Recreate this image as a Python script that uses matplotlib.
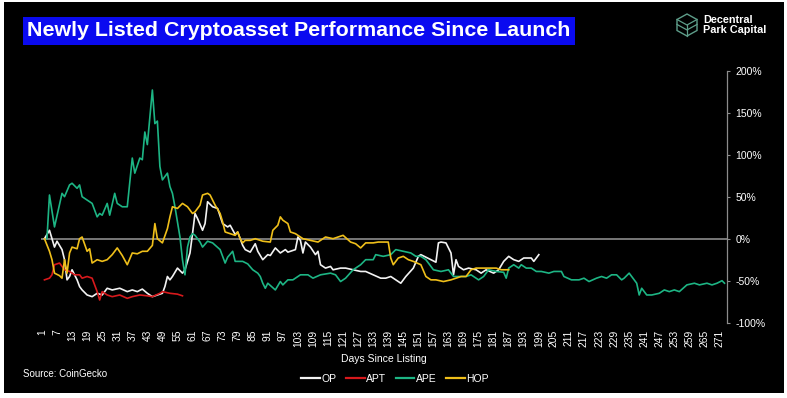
import matplotlib
matplotlib.use("Agg")
import matplotlib.pyplot as plt
import numpy as np
from matplotlib.patches import Rectangle, Polygon
from matplotlib.lines import Line2D

plt.rcParams['font.family'] = ['Liberation Sans', 'DejaVu Sans']

# ---- data (days since listing, % change) ----
op_days = [2, 4, 6, 7, 9, 10, 11, 12, 13, 15, 16, 17, 19, 21, 23, 25, 27, 29, 32, 35,
           37, 39, 41, 43, 45, 47, 49, 50, 51, 52, 53, 55, 57, 58, 60, 61, 62, 63, 65, 66,
           67, 69, 71, 73, 75, 76, 78, 79, 81, 82, 84, 86, 87, 89, 91, 92, 94, 96, 98, 99,
           102, 103, 104, 105, 106, 108, 110, 111, 112, 114, 116, 117, 120, 122, 125, 128, 130, 133, 136, 138,
           140, 142, 144, 146, 149, 151, 152, 154, 156, 158, 159, 160, 162, 164, 165, 166, 167, 169, 171, 174,
           176, 178, 181, 183, 185, 187, 189, 191, 193, 196, 197, 199]
op_vals = [0, 10, -10, -3, -13, -25, -49, -45, -37, -49, -57, -61, -67, -69, -65, -67, -59, -61, -59, -63,
           -61, -63, -60, -65, -69, -67, -65, -57, -45, -49, -45, -35, -41, -37, -17, 6, 30, 24, 10, 18,
           44, 38, 36, 18, 14, 16, 5, 8, -8, -13, -16, -6, -15, -25, -19, -20, -11, -17, -13, -16,
           -13, 2, -2, -17, -4, -10, -19, -15, -31, -35, -33, -37, -35, -35, -37, -39, -39, -43, -47, -47,
           -45, -49, -53, -45, -35, -21, -19, -22, -25, -28, -5, -4, -5, -17, -43, -25, -33, -37, -35, -37,
           -41, -37, -41, -37, -27, -21, -25, -27, -23, -23, -27, -19]

apt_days = [2, 4, 5, 6, 8, 9, 10, 12, 14, 16, 17, 19, 21, 22, 23, 24, 25, 27, 29, 32,
            35, 37, 40, 43, 45, 48, 49, 52, 55, 57]
apt_vals = [-49, -47, -43, -31, -29, -33, -37, -39, -43, -43, -47, -45, -47, -55, -63, -73, -63, -67, -69, -67,
            -71, -69, -67, -68, -69, -65, -63, -65, -66, -68]

ape_days = [3, 4, 6, 9, 10, 12, 13, 15, 16, 17, 19, 21, 23, 24, 25, 27, 28, 30, 31, 33,
            35, 37, 38, 40, 41, 42, 43, 45, 46, 47, 48, 49, 51, 52, 53, 54, 56, 57, 58, 59,
            60, 61, 62, 64, 65, 67, 69, 72, 74, 75, 77, 78, 81, 83, 85, 87, 88, 89, 90, 91,
            94, 96, 97, 99, 101, 104, 107, 109, 112, 116, 118, 120, 122, 125, 128, 130, 133, 134, 137, 140,
            142, 145, 148, 150, 152, 154, 157, 160, 163, 165, 168, 170, 172, 175, 177, 179, 182, 185, 186, 187,
            189, 191, 192, 194, 196, 198, 200, 203, 205, 208, 209, 212, 215, 217, 219, 222, 224, 226, 228, 230,
            232, 233, 235, 236, 238, 239, 240, 242, 244, 247, 249, 251, 253, 255, 258, 261, 263, 266, 268, 270,
            272, 273]
ape_vals = [0, 52, 14, 54, 50, 64, 66, 60, 64, 50, 46, 42, 26, 30, 28, 42, 28, 54, 42, 38,
            38, 96, 78, 96, 94, 127, 112, 177, 137, 140, 86, 70, 78, 62, 54, 38, 2, -25, -43, -10,
            2, 6, 4, -4, -10, -3, -5, -13, -29, -22, -15, -27, -27, -30, -37, -41, -45, -53, -59, -53,
            -61, -51, -55, -49, -49, -43, -43, -47, -43, -41, -43, -51, -47, -37, -31, -25, -25, -19, -21, -19,
            -13, -15, -17, -21, -21, -25, -37, -39, -37, -45, -45, -45, -43, -49, -45, -37, -39, -40, -47, -35,
            -31, -35, -31, -35, -35, -39, -39, -41, -39, -39, -45, -49, -49, -47, -51, -47, -45, -47, -43, -43,
            -49, -47, -41, -45, -53, -67, -59, -67, -67, -65, -61, -63, -61, -63, -55, -53, -55, -53, -55, -53,
            -50, -53]

hop_days = [2, 4, 5, 6, 8, 9, 10, 11, 12, 13, 15, 16, 17, 19, 20, 21, 23, 25, 27, 29,
            31, 33, 35, 37, 39, 41, 43, 45, 46, 47, 49, 51, 52, 53, 55, 57, 59, 61, 62, 64,
            65, 67, 68, 70, 72, 73, 74, 76, 78, 79, 80, 81, 82, 84, 86, 89, 92, 93, 95, 96,
            97, 99, 100, 102, 105, 108, 111, 114, 117, 121, 124, 126, 128, 130, 133, 135, 138, 139, 140, 141,
            143, 145, 147, 149, 152, 154, 156, 158, 161, 164, 168, 170, 172, 174, 176, 179, 182, 184, 187]
hop_vals = [0, -15, -25, -41, -44, -47, -25, -41, -17, -10, -12, 0, 2, -15, -12, -29, -25, -27, -25, -19,
            -11, -20, -31, -17, -18, -15, -15, -8, 18, 0, -5, 12, 26, 38, 36, 42, 38, 30, 32, 40,
            52, 54, 52, 40, 30, 20, 8, 6, 4, 8, 0, -5, -2, -2, 0, -3, -4, 10, 16, 26,
            22, 18, 8, 6, 0, -2, -4, 2, 0, 4, -4, -6, -11, -5, -5, -4, -4, -4, -23, -31,
            -23, -21, -25, -27, -31, -45, -49, -49, -51, -49, -45, -45, -37, -35, -35, -35, -35, -37, -37]

series = [("OP", op_days, op_vals, "#f2f2f2"),
          ("APT", apt_days, apt_vals, "#d7191c"),
          ("APE", ape_days, ape_vals, "#1db584"),
          ("HOP", hop_days, hop_vals, "#efbf1a")]

tick_days = list(range(1, 272, 6))
y_ticks = [-100, -50, 0, 50, 100, 150, 200]

fig = plt.figure(figsize=(7.87, 3.98), dpi=100)
fig.patch.set_facecolor("white")
fig.patches.append(Rectangle((4 / 787, 5 / 398), 780 / 787, 391 / 398,
                             transform=fig.transFigure, facecolor="black",
                             edgecolor="none", zorder=-10))

ax = fig.add_axes([0.0517, 0.1892, 0.8721, 0.6332])
ax.set_facecolor("black")

ax.axhline(0, color="#8c8c8c", lw=1.2, zorder=1)
for name, d, v, c in series:
    ax.plot(d, v, color=c, lw=1.2, label=name, zorder=2)

ax.set_xlim(0.5, 274)
ax.set_ylim(-100, 200)

for s in ["left", "top", "bottom"]:
    ax.spines[s].set_visible(False)
ax.spines["right"].set_color("#8c8c8c")
ax.spines["right"].set_linewidth(0.9)

ax.yaxis.tick_right()
ax.set_yticks(y_ticks)
ax.set_yticklabels([f"{t}%" for t in y_ticks])
ax.tick_params(axis="y", colors="#8c8c8c", labelcolor="white", labelsize=7.5,
               length=2, width=0.8, pad=4)

ax.set_xticks(tick_days)
ax.set_xticklabels([str(t) for t in tick_days], rotation=90)
ax.tick_params(axis="x", length=0, labelcolor="white", labelsize=7.4, pad=5)

ax.set_xlabel("Days Since Listing", color="white", fontsize=7.5, labelpad=5)

# title box
fig.text(27 / 787, 1 - 31 / 398, "Newly Listed Cryptoasset Performance Since Launch",
         color="white", fontsize=15.4, fontweight="bold", va="center", ha="left",
         bbox=dict(boxstyle="square,pad=0.2", facecolor="#0a0af0", edgecolor="none"))

# logo
teal = "#5e9e8a"
cx, cy = 687 / 787, 1 - 25 / 398
rx, ry = 10 / 787, 11 / 398
hexagon = [(cx, cy + ry), (cx + rx, cy + ry / 2), (cx + rx, cy - ry / 2),
           (cx, cy - ry), (cx - rx, cy - ry / 2), (cx - rx, cy + ry / 2)]
fig.patches.append(Polygon(hexagon, closed=True, fill=False, edgecolor=teal,
                           lw=1.0, transform=fig.transFigure))
for off in [0.0, -ry * 0.45]:
    fig.lines.append(Line2D([cx - rx, cx, cx + rx],
                            [cy + ry / 2 + off, cy + off, cy + ry / 2 + off],
                            color=teal, lw=0.9, transform=fig.transFigure))
fig.lines.append(Line2D([cx, cx], [cy, cy - ry], color=teal, lw=0.9,
                        transform=fig.transFigure))
fig.text(703 / 787, 1 - 25 / 398, "Decentral\nPark Capital", color="white",
         fontsize=7.8, fontweight="bold", va="center", ha="left", linespacing=0.95)

fig.text(23 / 787, 1 - 374 / 398, "Source: CoinGecko", color="white",
         fontsize=7, va="center", ha="left")

leg = fig.legend(loc="center", bbox_to_anchor=(395 / 787, 1 - 379 / 398), ncol=4,
                 frameon=False, fontsize=7.5, handlelength=1.8, handletextpad=0.15,
                 columnspacing=0.9, borderpad=0)
for t in leg.get_texts():
    t.set_color("white")
for h in leg.legend_handles:
    h.set_linewidth(1.6)

fig.savefig("out.png", dpi=100, facecolor=fig.get_facecolor())
